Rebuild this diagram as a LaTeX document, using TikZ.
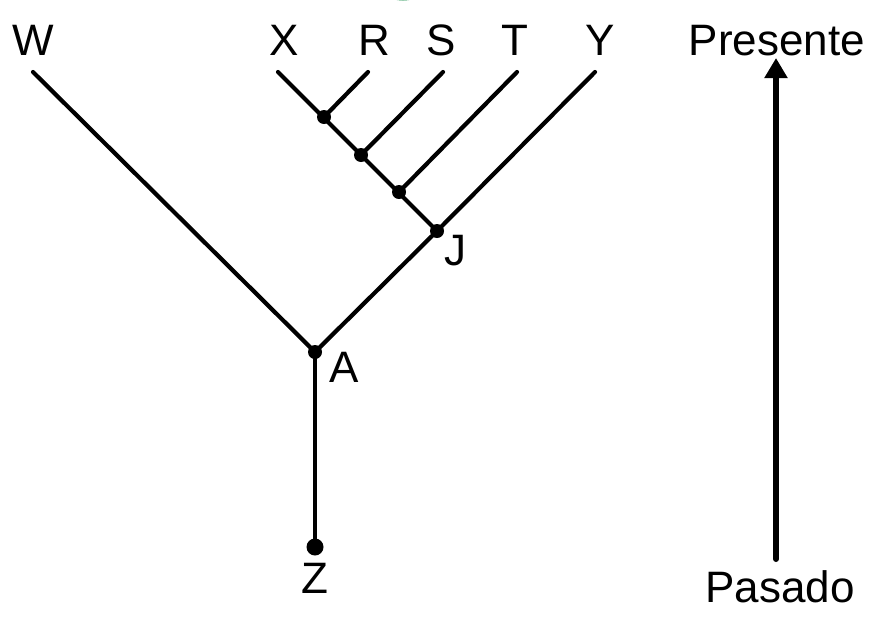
\documentclass[tikz,border=0pt]{standalone}
\usepackage{fontspec}
\setmainfont{Liberation Sans}
\usetikzlibrary{arrows.meta}
\begin{document}
\begin{tikzpicture}[x=1pt,y=-1pt,
  branch/.style={line width=4.2pt,line cap=round},
  lab/.style={font=\fontsize{44}{50}\selectfont,anchor=base,inner sep=0pt},
  dot/.style={circle,fill=black,inner sep=0pt,minimum size=14pt},
  bigdot/.style={circle,fill=black,inner sep=0pt,minimum size=17pt}]
\useasboundingbox (0,0) rectangle (874,619);
% green arc fragment at top
\draw[line width=3pt,color={rgb,255:red,20;green,140;blue,70}] (403,-17) ellipse [x radius=25, y radius=16];
% tips
\coordinate (w) at (33,72);
\coordinate (x) at (278,72);
\coordinate (r) at (368,72);
\coordinate (s) at (443,72);
\coordinate (t) at (517,72);
\coordinate (y) at (595,72);
% internal nodes
\node[dot] (n1) at (324,117) {};
\node[dot] (n2) at (361,155) {};
\node[dot] (n3) at (399,192) {};
\node[dot] (J) at (437,231) {};
\node[dot] (A) at (315,352) {};
\node[bigdot] (Z) at (315,547) {};
% branches
\draw[branch] (w) -- (A.center);
\draw[branch] (x) -- (J.center);
\draw[branch] (r) -- (n1.center);
\draw[branch] (s) -- (n2.center);
\draw[branch] (t) -- (n3.center);
\draw[branch] (y) -- (J.center);
\draw[branch] (J.center) -- (A.center);
\draw[branch] (A.center) -- (Z.center);
% labels
\node[lab] (lW) at (33,55) {W};
\node[lab] (lX) at (284,55) {X};
\node[lab] (lR) at (374,55) {R};
\node[lab] (lS) at (441,55) {S};
\node[lab] (lT) at (515,55) {T};
\node[lab] (lY) at (600,55) {Y};
\node[lab] (lJ) at (455,265) {J};
\node[lab] (lA) at (344,382) {A};
\node[lab] (lZ) at (315,593) {Z};
\node[lab] (pres) at (777,55) {Presente};
\node[lab] (pas) at (780,602) {Pasado};
% time arrow
\coordinate (abot) at (776,559);
\coordinate (atop) at (776,58);
\draw[line width=6pt,line cap=round,-{Triangle[length=20pt,width=22pt]}] (abot) -- (atop);
\end{tikzpicture}
\end{document}
